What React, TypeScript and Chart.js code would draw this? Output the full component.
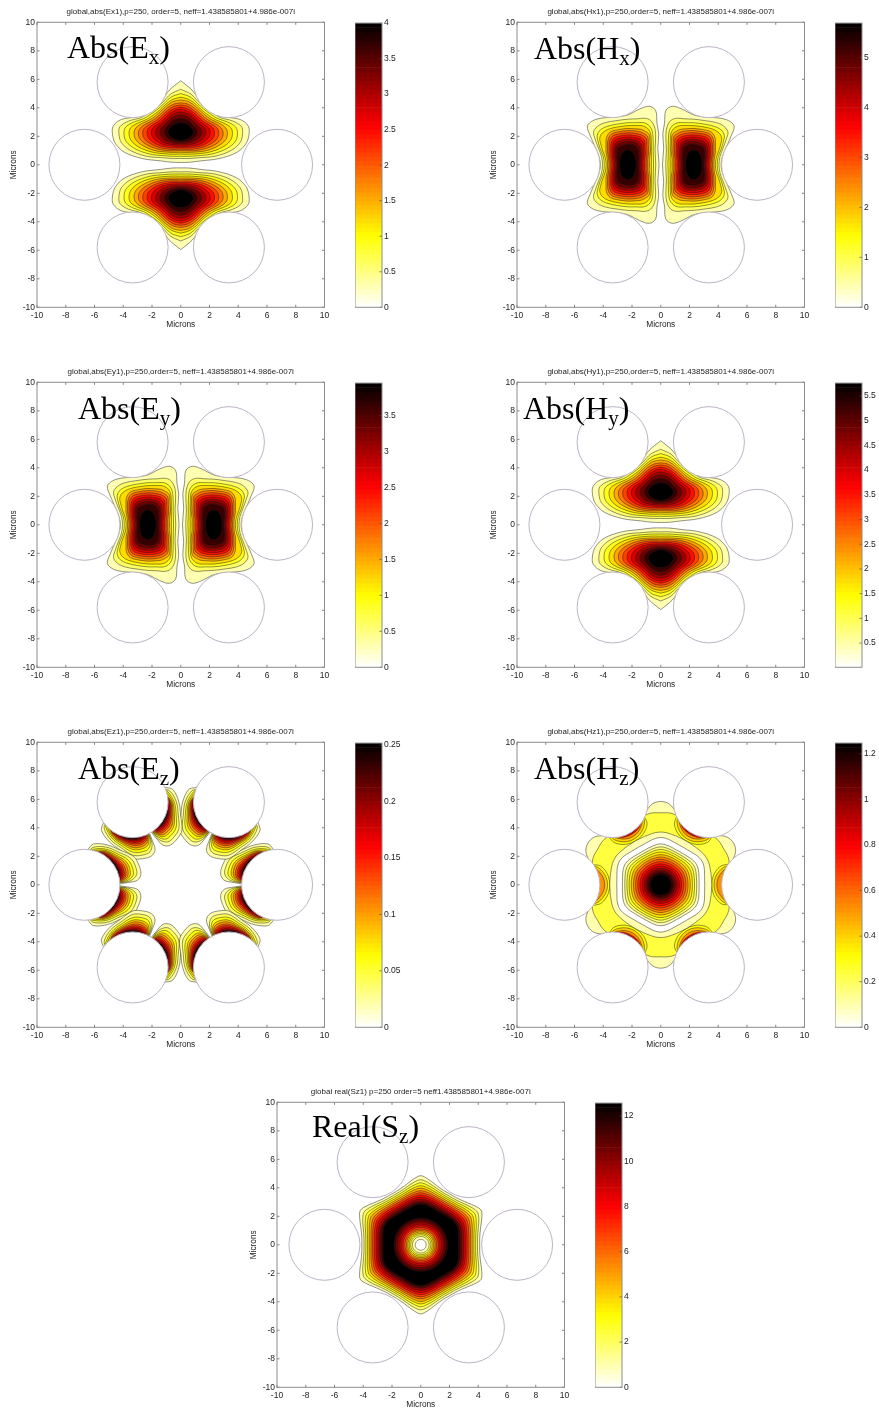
import React, { useEffect, useRef } from "react";
import { Chart, registerables } from "chart.js";

Chart.register(...registerables);

// ---------- tick labels ----------
const axisTicks = [-10, -8, -6, -4, -2, 0, 2, 4, 6, 8, 10];
const exTicks = [0, 0.5, 1, 1.5, 2, 2.5, 3, 3.5, 4];
const hxTicks = [0, 1, 2, 3, 4, 5];
const eyTicks = [0, 0.5, 1, 1.5, 2, 2.5, 3, 3.5];
const hyTicks = [0.5, 1, 1.5, 2, 2.5, 3, 3.5, 4, 4.5, 5, 5.5];
const ezTicks = [0, 0.05, 0.1, 0.15, 0.2, 0.25];
const hzTicks = [0, 0.2, 0.4, 0.6, 0.8, 1, 1.2];
const szTicks = [0, 2, 4, 6, 8, 10, 12];

// ---------- air holes (microns) ----------
const holeX = [-3.35, 3.35, -6.7, 6.7, -3.35, 3.35];
const holeY = [5.8, 5.8, 0, 0, -5.8, -5.8];

// ---------- lobe contours: radius per direction, outer level first ----------
// directions clockwise from "up", around (0, +-2.3)
const verticalAngles = [0, 15, 30, 45, 60, 70, 78, 85, 92, 100, 110, 125, 145, 165, 180];
const verticalLobe = [
  [3.6, 3.05, 2.6, 2.55, 2.8, 3.18, 4.23, 4.72, 4.75, 4.62, 4.16, 3.25, 2.47, 2.2, 2.13],
  [3.0, 2.75, 2.45, 2.4, 2.62, 2.95, 3.7, 4.25, 4.3, 4.2, 3.75, 2.95, 2.2, 1.93, 1.85],
  [2.7, 2.55, 2.32, 2.27, 2.45, 2.75, 3.35, 3.85, 3.95, 3.85, 3.4, 2.68, 2.03, 1.77, 1.7],
  [2.45, 2.35, 2.2, 2.13, 2.28, 2.55, 3.05, 3.5, 3.6, 3.5, 3.1, 2.45, 1.87, 1.62, 1.55],
  [2.25, 2.2, 2.07, 2.02, 2.13, 2.38, 2.8, 3.15, 3.25, 3.17, 2.8, 2.25, 1.72, 1.48, 1.42],
  [2.05, 2.02, 1.93, 1.88, 1.98, 2.2, 2.55, 2.85, 2.95, 2.87, 2.55, 2.05, 1.6, 1.36, 1.3],
  [1.9, 1.87, 1.78, 1.75, 1.83, 2.02, 2.32, 2.58, 2.65, 2.58, 2.3, 1.87, 1.47, 1.26, 1.2],
  [1.75, 1.7, 1.65, 1.62, 1.68, 1.85, 2.1, 2.3, 2.35, 2.3, 2.07, 1.7, 1.33, 1.16, 1.1],
  [1.6, 1.55, 1.5, 1.47, 1.52, 1.66, 1.87, 2.02, 2.05, 2.0, 1.82, 1.52, 1.2, 1.05, 1.0],
  [1.4, 1.38, 1.34, 1.32, 1.37, 1.47, 1.63, 1.73, 1.75, 1.7, 1.57, 1.33, 1.07, 0.95, 0.9],
  [1.2, 1.18, 1.16, 1.15, 1.19, 1.27, 1.38, 1.44, 1.45, 1.42, 1.32, 1.14, 0.93, 0.84, 0.8],
  [0.95, 0.95, 0.95, 0.95, 0.98, 1.04, 1.1, 1.14, 1.15, 1.12, 1.05, 0.93, 0.78, 0.72, 0.7],
  [0.65, 0.66, 0.68, 0.71, 0.76, 0.8, 0.84, 0.87, 0.88, 0.85, 0.8, 0.72, 0.63, 0.6, 0.6],
];

// directions clockwise from "up", around (+-2.3, 0)
const sideAngles = [-90, -75, -60, -45, -35, -27, -20, -12, 0, 15, 28, 38, 46, 52, 60, 72, 90];
const sideLobe = [
  [2.18, 2.22, 2.42, 3.05, 3.55, 4.28, 4.37, 4.0, 3.5, 3.47, 3.72, 3.93, 3.9, 3.3, 2.66, 2.13, 1.9],
  [1.95, 2.0, 2.2, 2.75, 3.25, 3.5, 3.48, 3.3, 3.2, 3.2, 3.35, 3.42, 3.3, 2.85, 2.35, 1.92, 1.75],
  [1.8, 1.85, 2.05, 2.5, 2.95, 3.15, 3.15, 3.02, 2.95, 2.95, 3.05, 3.1, 2.95, 2.6, 2.2, 1.78, 1.63],
  [1.65, 1.71, 1.9, 2.32, 2.75, 2.92, 2.92, 2.82, 2.75, 2.75, 2.83, 2.85, 2.7, 2.38, 2.02, 1.65, 1.5],
  [1.52, 1.56, 1.82, 2.2, 2.6, 2.65, 2.65, 2.58, 2.55, 2.55, 2.6, 2.4, 2.1, 1.92, 1.74, 1.5, 1.4],
  [1.4, 1.44, 1.68, 2.03, 2.42, 2.47, 2.47, 2.43, 2.4, 2.4, 2.43, 2.22, 1.95, 1.78, 1.61, 1.4, 1.3],
  [1.3, 1.33, 1.56, 1.88, 2.25, 2.3, 2.3, 2.27, 2.25, 2.25, 2.27, 2.05, 1.8, 1.64, 1.49, 1.3, 1.2],
  [1.18, 1.21, 1.42, 1.71, 2.05, 2.14, 2.14, 2.11, 2.1, 2.1, 2.1, 1.88, 1.65, 1.5, 1.36, 1.19, 1.1],
  [1.08, 1.1, 1.3, 1.57, 1.88, 1.97, 1.98, 1.96, 1.95, 1.95, 1.93, 1.72, 1.5, 1.37, 1.24, 1.08, 1.0],
  [0.97, 1.0, 1.16, 1.4, 1.66, 1.78, 1.82, 1.8, 1.8, 1.78, 1.75, 1.55, 1.35, 1.23, 1.12, 0.97, 0.9],
  [0.87, 0.89, 1.04, 1.26, 1.48, 1.6, 1.66, 1.65, 1.65, 1.62, 1.58, 1.4, 1.2, 1.1, 0.99, 0.87, 0.8],
  [0.75, 0.77, 0.9, 1.08, 1.28, 1.4, 1.45, 1.45, 1.45, 1.4, 1.38, 1.2, 1.05, 0.96, 0.87, 0.76, 0.7],
  [0.58, 0.59, 0.64, 0.72, 0.81, 0.89, 0.95, 1.01, 1.05, 0.98, 0.88, 0.8, 0.72, 0.67, 0.63, 0.59, 0.58],
];

// Ez: distance from the hole centre at these angles from the hole's inward direction
const ezAngles = [3, 5, 11, 20, 30, 44, 60, 77, 83];
const ezLobe = [
  [3.0, 3.7, 4.0, 4.03, 3.96, 3.48, 3.22, 2.95, 2.59],
  [2.3, 3.2, 3.7, 3.78, 3.72, 3.3, 3.05, 2.7, 2.3],
  [2.3, 2.9, 3.45, 3.55, 3.5, 3.15, 2.9, 2.55, 2.3],
  [2.3, 2.7, 3.22, 3.35, 3.32, 3.02, 2.8, 2.45, 2.3],
  [2.3, 2.55, 3.05, 3.2, 3.18, 2.92, 2.72, 2.3, 2.3],
  [2.3, 2.45, 2.9, 3.05, 3.03, 2.84, 2.65, 2.3, 2.3],
  [2.3, 2.3, 2.78, 2.93, 2.92, 2.76, 2.6, 2.3, 2.3],
  [2.3, 2.3, 2.66, 2.82, 2.82, 2.69, 2.54, 2.3, 2.3],
  [2.3, 2.3, 2.56, 2.72, 2.72, 2.63, 2.5, 2.3, 2.3],
  [2.3, 2.3, 2.47, 2.63, 2.64, 2.58, 2.3, 2.3, 2.3],
  [2.3, 2.3, 2.3, 2.56, 2.58, 2.53, 2.3, 2.3, 2.3],
  [2.3, 2.3, 2.3, 2.5, 2.53, 2.5, 2.3, 2.3, 2.3],
];

// Hz / Sz: radius from the origin at 0,6,...,30 deg, repeated with six-fold symmetry
const hzOutline = [4.5, 4.6, 4.8, 5.2, 5.7, 5.85];
const hzYellow = [4.4, 4.5, 4.7, 5.0, 5.08, 5.05];
const hzPaleHole = [3.55, 3.55, 3.58, 3.62, 3.68, 3.7];
const hzWhiteHole = [3.06, 3.07, 3.12, 3.2, 3.28, 3.32];
const hzDisc = [
  [2.67, 2.68, 2.72, 2.78, 2.84, 2.87],
  [2.5, 2.51, 2.54, 2.59, 2.64, 2.66],
  [2.35, 2.36, 2.38, 2.42, 2.46, 2.48],
  [2.2, 2.21, 2.23, 2.26, 2.29, 2.3],
  [2.05, 2.06, 2.07, 2.09, 2.11, 2.12],
  [1.9, 1.9, 1.91, 1.92, 1.94, 1.95],
  [1.75, 1.75, 1.76, 1.77, 1.78, 1.79],
  [1.6, 1.6, 1.6, 1.61, 1.62, 1.62],
  [1.45, 1.45, 1.45, 1.46, 1.46, 1.47],
  [1.3, 1.3, 1.3, 1.3, 1.31, 1.31],
  [1.15, 1.15, 1.15, 1.15, 1.15, 1.15],
  [1.0, 1.0, 1.0, 1.0, 1.0, 1.0],
  [0.87, 0.87, 0.87, 0.87, 0.87, 0.87],
  [0.72, 0.72, 0.72, 0.72, 0.72, 0.72],
];
// Hz hot spots beside a hole: distance from the hole centre at these angles (mirrored)
const hzSpotAngles = [0, 10, 20, 30];
const hzSpots = [
  [3.15, 3.12, 3.0, 2.75],
  [3.0, 2.95, 2.8, 2.55],
  [2.8, 2.75, 2.6, 2.4],
  [2.62, 2.6, 2.5, 2.2],
  [2.52, 2.5, 2.2, 2.2],
];
const hzSpotLevels = [0.25, 0.33, 0.42, 0.62, 0.85];

const szOuter = [
  [4.1, 4.12, 4.22, 4.4, 4.65, 4.85],
  [3.95, 3.97, 4.06, 4.22, 4.42, 4.56],
  [3.82, 3.84, 3.92, 4.06, 4.22, 4.35],
  [3.7, 3.72, 3.79, 3.91, 4.05, 4.15],
  [3.58, 3.6, 3.66, 3.77, 3.89, 3.98],
  [3.46, 3.48, 3.54, 3.63, 3.73, 3.8],
  [3.35, 3.37, 3.42, 3.5, 3.59, 3.65],
  [3.23, 3.25, 3.3, 3.37, 3.45, 3.5],
  [3.1, 3.12, 3.17, 3.24, 3.31, 3.35],
  [2.98, 3.0, 3.05, 3.11, 3.17, 3.2],
  [2.86, 2.88, 2.92, 2.98, 3.03, 3.05],
  [2.74, 2.76, 2.8, 2.86, 2.92, 2.95],
  [2.62, 2.64, 2.68, 2.75, 2.82, 2.85],
];
const szCoreRadii = [1.87, 1.75, 1.6, 1.45, 1.33, 1.22, 1.1, 1.0, 0.9, 0.8, 0.7, 0.58, 0.38];
const szCoreLevels = [0.92, 0.85, 0.77, 0.69, 0.62, 0.54, 0.46, 0.38, 0.31, 0.23, 0.15, 0.08, 0];

// ---------- colour map: reversed "hot" ----------
const clamp = (v: number) => Math.max(0, Math.min(1, v));
function hot(f: number) {
  const t = 1 - f;
  const r = clamp(t / 0.365), g = clamp((t - 0.365) / 0.381), b = clamp((t - 0.746) / 0.254);
  return `rgb(${Math.round(r * 255)},${Math.round(g * 255)},${Math.round(b * 255)})`;
}

type P = { x: number; y: number };
const rad = (d: number) => (d * Math.PI) / 180;

function contour(points: P[], f: number) {
  return {
    data: points, showLine: true, fill: "shape", tension: 0.35, pointRadius: 0,
    backgroundColor: hot(f), borderColor: "rgba(25,25,25,0.8)", borderWidth: 0.6,
  };
}

function verticalShapes() {
  const out: any[] = [];
  [1, -1].forEach((sy) => {
    verticalLobe.forEach((row, k) => {
      const pts: P[] = [];
      const cy = sy > 0 ? 2.3 : -2.35;
      const at = (i: number, sx: number) => ({
        x: sx * row[i] * Math.sin(rad(verticalAngles[i])),
        y: cy + sy * row[i] * Math.cos(rad(verticalAngles[i])),
      });
      for (let i = 0; i < row.length; i++) pts.push(at(i, 1));
      for (let i = row.length - 2; i >= 0; i--) pts.push(at(i, -1));
      out.push(contour(pts, (k + 1) / verticalLobe.length));
    });
  });
  return out;
}

function sideShapes() {
  const out: any[] = [];
  [1, -1].forEach((sx) => {
    sideLobe.forEach((row, k) => {
      const pts: P[] = [];
      const at = (i: number, sy: number) => {
        const th = rad(sideAngles[i]);
        return { x: sx * (2.3 + row[i] * Math.sin(th)), y: sy * row[i] * Math.cos(th) };
      };
      for (let i = 0; i < row.length; i++) pts.push(at(i, 1));
      for (let i = row.length - 2; i >= 0; i--) pts.push(at(i, -1));
      out.push(contour(pts, (k + 1) / sideLobe.length));
    });
  });
  return out;
}

const turn = (p: P, k: number, m: number): P => {
  const a = rad(60 * k);
  const y = m * p.y;
  return { x: p.x * Math.cos(a) - y * Math.sin(a), y: p.x * Math.sin(a) + y * Math.cos(a) };
};
const fromHole = (r: number, deg: number): P => ({
  x: holeX[3] - r * Math.cos(rad(deg)),
  y: r * Math.sin(rad(deg)),
});

function ezShapes() {
  const out: any[] = [];
  ezLobe.forEach((row, k) => {
    const base = [fromHole(2, 0), ...row.map((r, i) => fromHole(r, ezAngles[i])), fromHole(2, 90), fromHole(1.5, 45), fromHole(2, 0)];
    for (let q = 0; q < 6; q++) {
      [1, -1].forEach((m) => out.push(contour(base.map((p) => turn(p, q, m)), (k + 1) / ezLobe.length)));
    }
  });
  return out;
}

function ring(row: number[]) {
  const pts: P[] = [];
  for (let i = 0; i <= 60; i++) {
    const a = i % 10;
    const j = a <= 5 ? a : 10 - a;
    pts.push({ x: row[j] * Math.cos(rad(i * 6)), y: row[j] * Math.sin(rad(i * 6)) });
  }
  return pts;
}

function hzShapes() {
  const out: any[] = [contour(ring(hzOutline), 0.08), contour(ring(hzYellow), 0.19)];
  hzSpots.forEach((row, k) => {
    const upper = row.map((r, i) => fromHole(r, hzSpotAngles[i]));
    const lower = row.slice(1).map((r, i) => fromHole(r, -hzSpotAngles[i + 1])).reverse();
    const base = [fromHole(2, -42), ...lower, ...upper, fromHole(2, 42), fromHole(1.6, 0), fromHole(2, -42)];
    for (let q = 0; q < 6; q++) {
      // the two holes on the x axis only reach orange in the reference
      if (k >= 3 && (q === 0 || q === 3)) continue;
      out.push(contour(base.map((p) => turn(p, q, 1)), hzSpotLevels[k]));
    }
  });
  out.push(contour(ring(hzPaleHole), 0.08), contour(ring(hzWhiteHole), 0));
  hzDisc.forEach((row, k) => out.push(contour(ring(row), (k + 1) / hzDisc.length)));
  return out;
}

function szShapes() {
  const out: any[] = szOuter.map((row, k) => contour(ring(row), (k + 1) / szOuter.length));
  szCoreRadii.forEach((r, k) => out.push(contour(ring([r, r, r, r, r, r]), szCoreLevels[k])));
  return out;
}

// ---------- shared drawing helpers ----------
const AXIS_FONT = "'Liberation Sans', Arial, sans-serif";

const framePlugin = {
  id: "frame",
  afterDraw(chart: any, _a: any, opts: any) {
    const { ctx, chartArea: c, scales } = chart;
    ctx.save();
    ctx.strokeStyle = "rgba(70,70,70,0.85)";
    ctx.lineWidth = 0.8;
    const len = 2.5;
    ctx.beginPath();
    if (opts.plot) {
      scales.x.ticks.forEach((t: any) => {
        const px = scales.x.getPixelForValue(t.value);
        ctx.moveTo(px, c.bottom); ctx.lineTo(px, c.bottom - len);
        ctx.moveTo(px, c.top); ctx.lineTo(px, c.top + len);
      });
    }
    scales.y.ticks.forEach((t: any) => {
      const py = scales.y.getPixelForValue(t.value);
      ctx.moveTo(c.right, py); ctx.lineTo(c.right - len, py);
      if (opts.plot) { ctx.moveTo(c.left, py); ctx.lineTo(c.left + len, py); }
    });
    ctx.stroke();
    ctx.strokeStyle = "rgb(140,140,140)";
    ctx.lineWidth = 1;
    ctx.strokeRect(c.left, c.top, c.right - c.left, c.bottom - c.top);
    ctx.restore();
  },
};

function PlotCanvas({ left, top, title, shapes }: any) {
  const ref = useRef<HTMLCanvasElement>(null);
  useEffect(() => {
    const datasets = shapes();
    datasets.forEach((d: any, i: number) => (d.order = datasets.length - i + 1));
    datasets.push({
      data: holeX.map((x, i) => ({ x, y: holeY[i] })), order: 0, showLine: false,
      pointRadius: 35.5, pointBackgroundColor: "#ffffff", pointBorderColor: "rgb(188,178,196)", pointBorderWidth: 1,
    });
    const tickFont = { family: AXIS_FONT, size: 8.5 };
    const titleFont = { family: AXIS_FONT, size: 8.3, weight: "normal" as const };
    const chart = new Chart(ref.current!, {
      type: "scatter",
      data: { datasets },
      plugins: [framePlugin],
      options: {
        responsive: false, animation: false, events: [],
        layout: { autoPadding: false, padding: { right: 14.5 } },
        plugins: {
          legend: { display: false }, tooltip: { enabled: false },
          title: {
            display: true, text: title, color: "#222", fullSize: false,
            font: { family: AXIS_FONT, size: 8, weight: "normal" }, padding: { top: 7, bottom: 5.7 },
          },
          frame: { plot: true },
        } as any,
        scales: {
          x: {
            type: "linear", min: -10, max: 10, grid: { display: false, drawTicks: false }, border: { display: false },
            afterBuildTicks: (s: any) => { s.ticks = axisTicks.map((value) => ({ value })); },
            afterFit: (s: any) => { s.height = 26.7; },
            ticks: { color: "#222", font: tickFont, padding: 3, maxRotation: 0, autoSkip: false },
            title: { display: true, text: "Microns", color: "#222", font: titleFont, padding: { top: 0, bottom: 4 } },
          },
          y: {
            type: "linear", min: -10, max: 10, grid: { display: false, drawTicks: false }, border: { display: false },
            afterBuildTicks: (s: any) => { s.ticks = axisTicks.map((value) => ({ value })); },
            afterFit: (s: any) => { s.width = 37; },
            ticks: { color: "#222", font: tickFont, padding: 2, autoSkip: false },
            title: { display: true, text: "Microns", color: "#222", font: titleFont, padding: { top: 9, bottom: 0 } },
          },
        },
      } as any,
    });
    return () => chart.destroy();
  }, []);
  return <canvas ref={ref} width={339} height={334} style={{ position: "absolute", left, top }} />;
}

function BarCanvas({ left, top, min, max, ticks }: any) {
  const ref = useRef<HTMLCanvasElement>(null);
  useEffect(() => {
    const bands = 64;
    const datasets: any[] = [];
    for (let i = bands - 1; i >= 0; i--) {
      const lo = min + ((max - min) * i) / bands;
      const hi = min + ((max - min) * (i + 1)) / bands;
      datasets.push({ data: [[lo, hi]], backgroundColor: hot((i + 0.5) / bands), borderWidth: 0, barPercentage: 1, categoryPercentage: 1 });
    }
    const chart = new Chart(ref.current!, {
      type: "bar",
      data: { labels: ["scale"], datasets },
      plugins: [framePlugin],
      options: {
        responsive: false, animation: false, events: [],
        layout: { autoPadding: false, padding: { top: 6.3, bottom: 7.7 } },
        plugins: { legend: { display: false }, tooltip: { enabled: false }, frame: { plot: false } } as any,
        scales: {
          x: { display: false, stacked: false },
          y: {
            position: "right", min, max, grid: { display: false, drawTicks: false }, border: { display: false },
            afterBuildTicks: (s: any) => { s.ticks = ticks.map((value: number) => ({ value })); },
            afterFit: (s: any) => { s.width = 30; },
            ticks: { color: "#222", font: { family: AXIS_FONT, size: 8.5 }, padding: 2, autoSkip: false, callback: (v: any) => String(v) },
          },
        },
        datasets: { bar: { grouped: false } },
      } as any,
    });
    return () => chart.destroy();
  }, []);
  return <canvas ref={ref} width={57} height={299} style={{ position: "absolute", left, top }} />;
}

function Big({ left, baseline, name, sub }: any) {
  return (
    <div style={{ position: "absolute", left, top: baseline - 27, fontFamily: "'Liberation Serif', serif", fontSize: 32, lineHeight: "32px", color: "#000", whiteSpace: "nowrap" }}>
      {name}({sub[0]}
      <span style={{ fontSize: 21, position: "relative", top: 6 }}>{sub[1]}</span>)
    </div>
  );
}

const panels = [
  { left: 0, top: 0, bar: 355, title: "global,abs(Ex1),p=250, order=5, neff=1.438585801+4.986e-007i", shapes: verticalShapes, min: 0, max: 4, ticks: exTicks, big: ["Abs", "Ex", 67, 58] },
  { left: 480, top: 0, bar: 835, title: "global,abs(Hx1),p=250,order=5, neff=1.438585801+4.986e-007i", shapes: sideShapes, min: 0, max: 5.69, ticks: hxTicks, big: ["Abs", "Hx", 534, 59] },
  { left: 0, top: 360, bar: 355, title: "global,abs(Ey1),p=250,order=5, neff=1.438585801+4.986e-007i", shapes: sideShapes, min: 0, max: 3.95, ticks: eyTicks, big: ["Abs", "Ey", 78, 419] },
  { left: 480, top: 360, bar: 835, title: "global,abs(Hy1),p=250,order=5, neff=1.438585801+4.986e-007i", shapes: verticalShapes, min: 0.01, max: 5.76, ticks: hyTicks, big: ["Abs", "Hy", 523, 419] },
  { left: 0, top: 720, bar: 355, title: "global,abs(Ez1),p=250,order=5, neff=1.438585801+4.986e-007i", shapes: ezShapes, min: 0, max: 0.2518, ticks: ezTicks, big: ["Abs", "Ez", 78, 779] },
  { left: 480, top: 720, bar: 835, title: "global,abs(Hz1),p=250,order=5, neff=1.438585801+4.986e-007i", shapes: hzShapes, min: 0, max: 1.247, ticks: hzTicks, big: ["Abs", "Hz", 534, 779] },
  { left: 240, top: 1080, bar: 595, title: "global real(Sz1) p=250 order=5 neff1.438585801+4.986e-007i", shapes: szShapes, min: 0, max: 12.57, ticks: szTicks, big: ["Real", "Sz", 312, 1137] },
];

export default function App() {
  return (
    <div style={{ position: "absolute", left: 0, top: 0, width: 879, height: 1412, overflow: "hidden", background: "#fff", filter: "blur(0.35px)" }}>
      {panels.map((p, i) => (
        <React.Fragment key={i}>
          <PlotCanvas left={p.left} top={p.top} title={p.title} shapes={p.shapes} />
          <BarCanvas left={p.bar} top={p.top + 16} min={p.min} max={p.max} ticks={p.ticks} />
          <Big left={p.big[2]} baseline={p.big[3]} name={p.big[0]} sub={p.big[1]} />
        </React.Fragment>
      ))}
    </div>
  );
}
